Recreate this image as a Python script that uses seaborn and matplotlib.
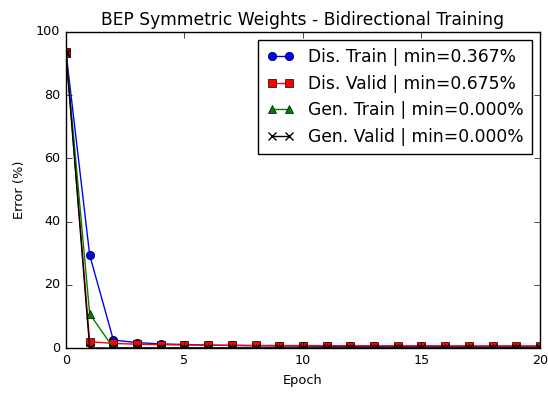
import numpy as np
import pandas as pd
import matplotlib
matplotlib.use("Agg")
import matplotlib.pyplot as plt
import seaborn as sns

epochs = list(range(21))
dis_train = [93.7, 29.4, 2.5, 1.7, 1.3, 1.1, 0.9, 0.8, 0.72, 0.65, 0.6, 0.55,
             0.52, 0.5, 0.46, 0.44, 0.42, 0.4, 0.39, 0.38, 0.367]
dis_valid = [93.7, 2.0, 1.45, 1.2, 1.05, 0.95, 0.9, 0.85, 0.8, 0.78, 0.75, 0.74,
             0.72, 0.71, 0.7, 0.7, 0.69, 0.68, 0.68, 0.676, 0.675]
gen_train = [93.5, 10.8] + [0.0] * 19
gen_valid = [93.5] + [0.0] * 20

plt.style.use("classic")
fig = plt.figure(figsize=(5.48, 3.93), dpi=100, facecolor="white")
ax = fig.add_axes([0.1204, 0.1145, 0.8650, 0.8041])

series = [
    ("Dis. Train", dis_train, "b", "o"),
    ("Dis. Valid", dis_valid, "r", "s"),
    ("Gen. Train", gen_train, "g", "^"),
    ("Gen. Valid", gen_valid, "k", "x"),
]
for name, vals, color, marker in series:
    df = pd.DataFrame({"Epoch": epochs, "Error": vals})
    sns.lineplot(data=df, x="Epoch", y="Error", ax=ax, color=color,
                 marker=marker, markersize=6,
                 markeredgecolor="k" if marker != "x" else color,
                 markeredgewidth=0.5 if marker != "x" else 1.0, linewidth=1.0,
                 label=f"{name} | min={min(vals):.3f}%")

ax.set_xlim(0, 20)
ax.set_ylim(0, 100)
ax.set_xticks([0, 5, 10, 15, 20])
ax.set_yticks([0, 20, 40, 60, 80, 100])
ax.tick_params(labelsize=9.2)
ax.set_xlabel("Epoch", fontsize=9.4)
ax.set_ylabel("Error (%)", fontsize=9.4)
ax.yaxis.set_label_coords(-0.085, 0.5)
ax.set_title("BEP Symmetric Weights - Bidirectional Training", fontsize=12.3)
ax.legend(loc="upper right", numpoints=2, fontsize=12.3, frameon=True,
          fancybox=False, handlelength=1.6, handletextpad=0.8,
          labelspacing=0.5, borderpad=0.5, borderaxespad=0.45)

fig.savefig("out.png", dpi=100, facecolor="white")
